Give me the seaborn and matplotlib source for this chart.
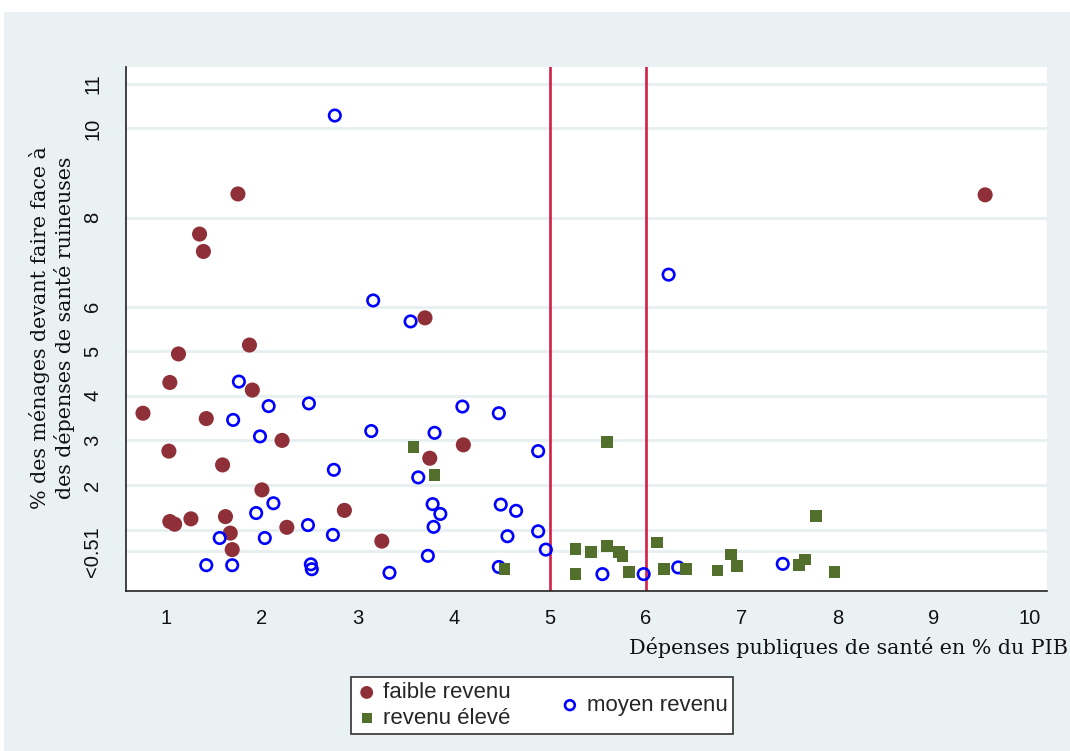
import matplotlib
matplotlib.use("Agg")
import matplotlib.pyplot as plt
from matplotlib.patches import Rectangle
import numpy as np
import pandas as pd
import seaborn as sns

# Public health spending (% of GDP) vs share of households facing catastrophic
# health expenditure, by country income group.
faible_x = [9.54, 1.75, 1.35, 1.39, 3.70, 1.87, 1.13, 1.04, 1.90, 0.76, 1.42, 2.21, 1.03,
            4.10, 1.59, 3.75, 2.00, 1.04, 1.09, 1.26, 1.62, 2.86, 2.26, 1.67, 1.69, 3.25]
faible_y = [8.51, 8.53, 7.63, 7.24, 5.75, 5.14, 4.94, 4.30, 4.13, 3.61, 3.49, 3.00, 2.76,
            2.90, 2.45, 2.60, 1.89, 1.18, 1.12, 1.24, 1.29, 1.43, 1.05, 0.92, 0.55, 0.74]

moyen_x = [2.76, 3.16, 3.55, 6.24, 1.76, 2.07, 2.49, 1.70, 1.98, 3.14, 2.75, 3.63, 2.12, 1.94,
           2.48, 2.74, 1.56, 2.03, 1.42, 1.69, 2.51, 2.52, 3.33, 4.09, 4.47, 3.80, 4.88,
           3.78, 3.86, 3.79, 4.49, 4.65, 4.56, 4.88, 4.96, 3.73, 4.47, 5.55, 5.98, 6.34, 7.43]
moyen_y = [10.29, 6.14, 5.67, 6.72, 4.32, 3.77, 3.83, 3.46, 3.09, 3.21, 2.34, 2.17, 1.59, 1.37,
           1.10, 0.88, 0.81, 0.81, 0.20, 0.20, 0.22, 0.11, 0.03, 3.76, 3.61, 3.17, 2.76,
           1.57, 1.35, 1.06, 1.56, 1.42, 0.85, 0.96, 0.55, 0.41, 0.16, 0.00, 0.00, 0.15, 0.23]

eleve_x = [3.58, 3.80, 5.60, 4.53, 5.27, 5.43, 5.60, 5.72, 5.76, 5.27, 5.83, 6.12, 6.19,
           6.42, 6.75, 6.89, 6.95, 7.60, 7.66, 7.78, 7.97]
eleve_y = [2.85, 2.23, 2.96, 0.11, 0.56, 0.49, 0.63, 0.49, 0.41, 0.01, 0.05, 0.71, 0.11,
           0.11, 0.08, 0.44, 0.19, 0.21, 0.33, 1.30, 0.05]

group_labels = ["faible revenu", "moyen revenu", "revenu élevé"]
y_ticks = [0.51, 1, 2, 3, 4, 5, 6, 8, 10, 11]
y_tick_labels = ["<0.51", "", "2", "3", "4", "5", "6", "8", "10", "11"]
x_ticks = [1, 2, 3, 4, 5, 6, 7, 8, 9, 10]
thresholds = [5, 6]

df_faible = pd.DataFrame({"x": faible_x, "y": faible_y})
df_moyen = pd.DataFrame({"x": moyen_x, "y": moyen_y})
df_eleve = pd.DataFrame({"x": eleve_x, "y": eleve_y})

sns.set_style("white")
plt.rcParams["font.family"] = ["Liberation Sans", "DejaVu Sans"]

PANEL = "#EAF1F3"
MAROON = "#8F2F37"
GREEN = "#52702B"
BLUE = "#0000FF"
RED = "#D21F47"

fig = plt.figure(figsize=(10.7, 7.51), dpi=100)
fig.patch.set_facecolor("white")
fig.add_artist(Rectangle((4 / 1070, 0), 1, (751 - 12) / 751, transform=fig.transFigure,
                         facecolor=PANEL, edgecolor="none", zorder=0))

W, H = 1070, 751
ax = fig.add_axes([126 / W, 1 - 591 / H, (1047 - 126) / W, (591 - 66.5) / H])
ax.set_facecolor("white")

for xv in thresholds:
    ax.axvline(xv, color=RED, lw=1.9, zorder=1.5)

sns.scatterplot(data=df_faible, x="x", y="y", ax=ax, marker="o", s=118,
                color=MAROON, edgecolor="none", linewidth=0, label=group_labels[0], zorder=3)
sns.scatterplot(data=df_moyen, x="x", y="y", ax=ax, marker="o", s=68,
                facecolors="none", edgecolor=BLUE, linewidth=1.9, label=group_labels[1], zorder=3)
sns.scatterplot(data=df_eleve, x="x", y="y", ax=ax, marker="s", s=72,
                color=GREEN, edgecolor="none", linewidth=0, label=group_labels[2], zorder=3)

ax.set_xlim(0.583, 10.185)
ax.set_ylim(-0.379, 11.39)
ax.set_xticks(x_ticks)
ax.set_xticklabels([str(t) for t in x_ticks])
ax.set_yticks(y_ticks)
ax.set_yticklabels(y_tick_labels)
ax.set_xlabel("")
ax.set_ylabel("")

ax.set_axisbelow(True)
ax.yaxis.grid(True, color="#E6EFF1", lw=2.0)
ax.xaxis.grid(False)

for side in ["top", "right"]:
    ax.spines[side].set_visible(False)
for side in ["left", "bottom"]:
    ax.spines[side].set_color("#222222")
    ax.spines[side].set_linewidth(1.2)

tick_font = ["Liberation Sans Narrow", "Liberation Sans", "DejaVu Sans"]
ax.tick_params(axis="x", length=6, width=1.1, color="#222222", pad=7, labelsize=14.5)
ax.tick_params(axis="y", length=6, width=1.1, color="#222222", pad=11, labelsize=14.5,
               labelrotation=90)
for lab in ax.get_xticklabels() + ax.get_yticklabels():
    lab.set_family(tick_font)
    lab.set_color("#111111")
for lab in ax.get_yticklabels():
    lab.set_verticalalignment("center")

serif = ["DejaVu Serif"]
fig.text(1068 / W, 1 - 648 / H, "Dépenses publiques de santé en % du PIB",
         ha="right", va="center", fontsize=14.9, family=serif, color="#111111")
fig.text(52 / W, 1 - 328 / H,
         "% des ménages devant faire face à\ndes dépenses de santé ruineuses",
         ha="center", va="center", rotation=90, fontsize=14.9, family=serif,
         linespacing=1.2, multialignment="center", color="#111111")

handles, labels = ax.get_legend_handles_labels()
if ax.get_legend():
    ax.get_legend().remove()
order = [labels.index(group_labels[0]), labels.index(group_labels[2]),
         labels.index(group_labels[1])]
leg = fig.legend([handles[i] for i in order], [labels[i] for i in order],
                 loc="center", bbox_to_anchor=(542 / W, 1 - 705.5 / H), ncol=2,
                 fontsize=16, frameon=True, fancybox=False, framealpha=1,
                 edgecolor="#404040", facecolor="white", markerscale=0.85,
                 handlelength=0.9, handletextpad=0.3, columnspacing=2.2,
                 labelspacing=0.2, borderpad=0.25, borderaxespad=0)
leg.get_frame().set_linewidth(1.3)
leg._legend_handle_box.align = "center"

fig.savefig("out.png", dpi=100, facecolor=fig.get_facecolor())
